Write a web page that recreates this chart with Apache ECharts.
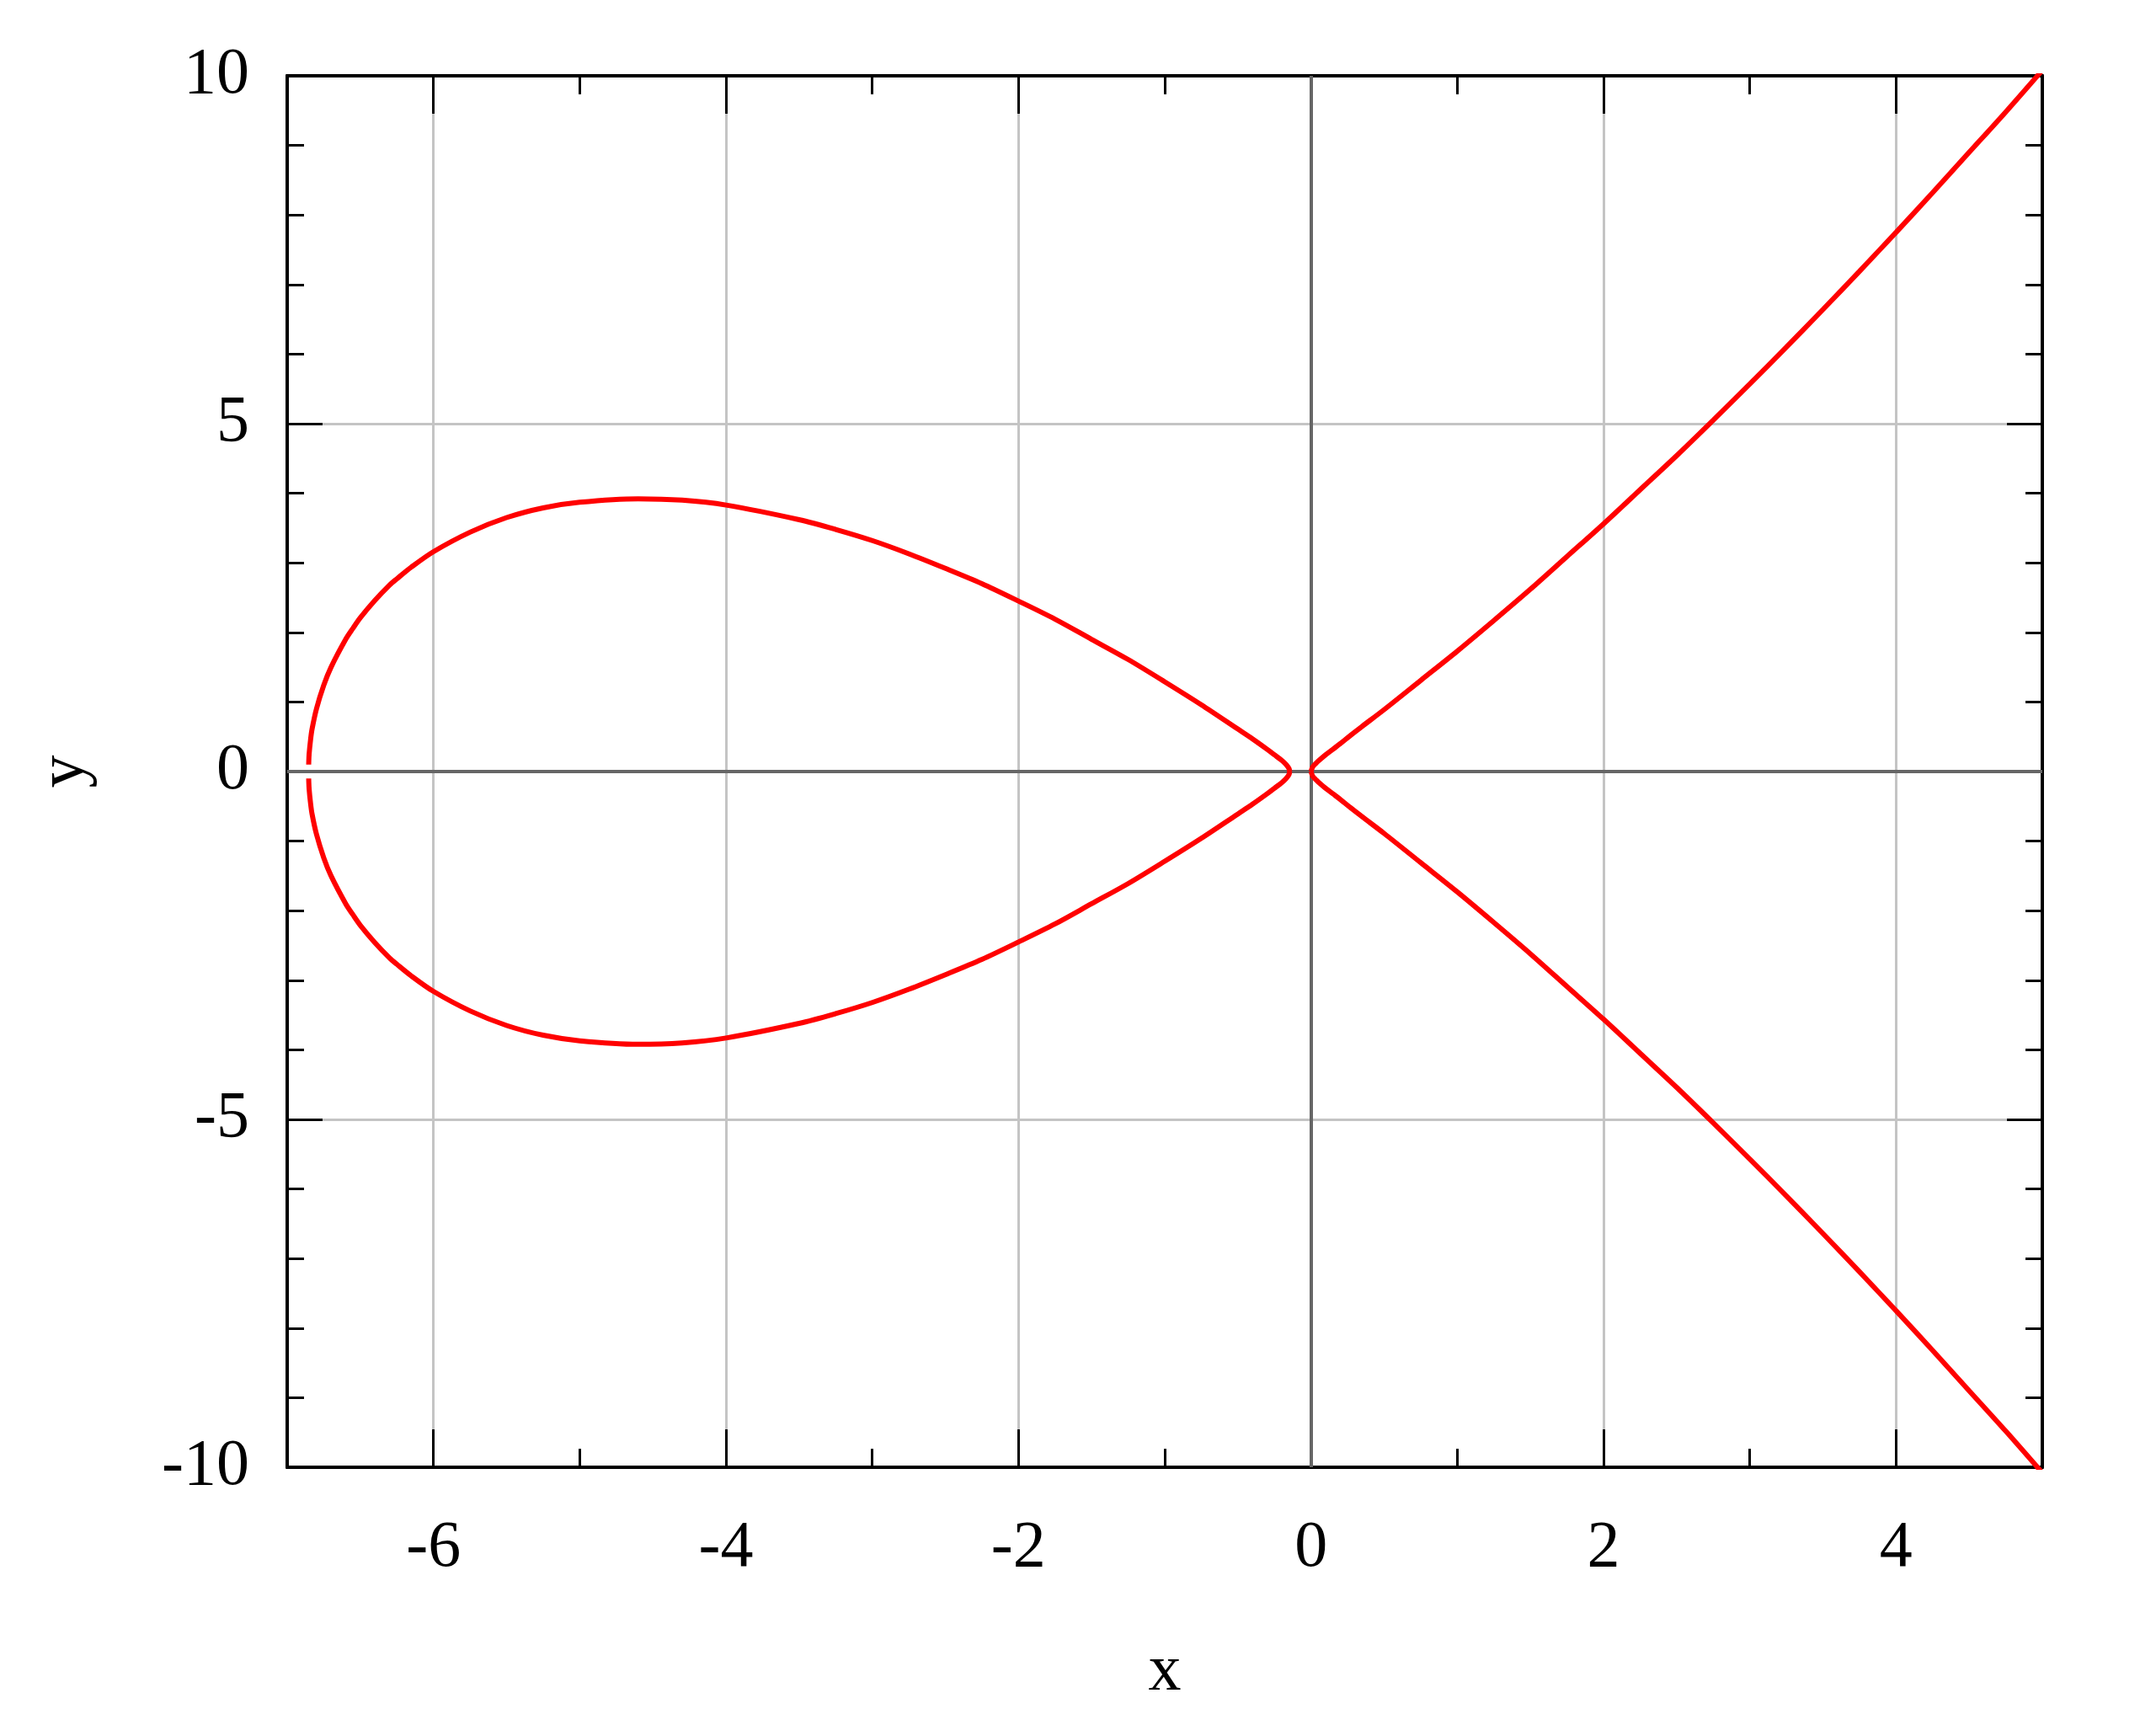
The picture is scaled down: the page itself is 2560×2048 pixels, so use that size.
<!DOCTYPE html>
<html>
<head>
<meta charset="utf-8">
<script src="https://cdn.jsdelivr.net/npm/echarts@6/dist/echarts.min.js"></script>
<style>
html,body{margin:0;padding:0;background:#fff;}
#chart{width:2560px;height:2048px;}
</style>
</head>
<body>
<div id="chart"></div>
<script>
// Loop (left oval)
const loopX = [-6.853, -6.85, -6.84, -6.83, -6.8, -6.75, -6.7, -6.6, -6.55, -6.5, -6.4, -6.3, -6.25, -6.15, -6, -5.75, -5.5, -5.25, -5, -4.6, -4.3, -4, -3.5, -3.25, -3, -2.75, -2.5, -2.25, -2, -1.75, -1.5, -1.25, -1, -0.75, -0.5, -0.4, -0.3, -0.25, -0.2, -0.17, -0.15, -0.146];
const loopUpperY = [0.10, 0.25, 0.46, 0.61, 0.90, 1.24, 1.50, 1.90, 2.06, 2.21, 2.46, 2.68, 2.77, 2.94, 3.16, 3.44, 3.65, 3.79, 3.87, 3.92, 3.90, 3.83, 3.62, 3.48, 3.32, 3.13, 2.92, 2.70, 2.45, 2.19, 1.90, 1.61, 1.29, 0.96, 0.61, 0.47, 0.32, 0.24, 0.16, 0.10, 0.04, 0];
const loopLowerY = [-0.10, -0.25, -0.46, -0.61, -0.90, -1.24, -1.50, -1.90, -2.06, -2.21, -2.46, -2.68, -2.77, -2.94, -3.16, -3.44, -3.65, -3.79, -3.87, -3.92, -3.90, -3.83, -3.62, -3.48, -3.32, -3.13, -2.92, -2.70, -2.45, -2.19, -1.90, -1.61, -1.29, -0.96, -0.61, -0.47, -0.32, -0.24, -0.16, -0.10, -0.04, 0];
// Right (open) branch
const branchX = [0, 0.01, 0.02, 0.03, 0.05, 0.1, 0.15, 0.2, 0.27, 0.35, 0.5, 0.75, 1, 1.25, 1.5, 1.75, 2, 2.25, 2.5, 2.75, 3, 3.25, 3.5, 3.75, 4, 4.25, 4.5, 4.75, 5];
const branchUpperY = [0, 0.06, 0.09, 0.11, 0.15, 0.24, 0.32, 0.40, 0.52, 0.65, 0.89, 1.31, 1.73, 2.17, 2.62, 3.09, 3.56, 4.05, 4.54, 5.05, 5.57, 6.10, 6.64, 7.19, 7.75, 8.32, 8.90, 9.48, 10.08];
const branchLowerY = [0, -0.06, -0.09, -0.11, -0.15, -0.24, -0.32, -0.40, -0.52, -0.65, -0.89, -1.31, -1.73, -2.17, -2.62, -3.09, -3.56, -4.05, -4.54, -5.05, -5.57, -6.10, -6.64, -7.19, -7.75, -8.32, -8.90, -9.48, -10.08];
// Axis ticks
const xMajorTicks = [-6, -4, -2, 0, 2, 4];
const yMajorTicks = [-10, -5, 0, 5, 10];
const xRange = [-7, 5];
const yRange = [-10, 10];

const pairs = (xs, ys) => xs.map((x, i) => [x, ys[i]]);
const FONT = 'Liberation Serif';
const labelStyle = {fontFamily: FONT, fontSize: 78, color: '#000'};

function xAx(pos, major, withLabels) {
  return {
    type: 'value', position: pos, min: xRange[0], max: xRange[1],
    interval: 1,
    axisLine: {show: true, onZero: false, lineStyle: {color: '#000', width: 4}},
    axisTick: major ? {show: true, inside: true, length: 45, customValues: xMajorTicks, lineStyle: {color: '#000', width: 3}}
                    : {show: true, inside: true, length: 22, lineStyle: {color: '#000', width: 3}},
    axisLabel: withLabels ? Object.assign({show: true, margin: 58, customValues: xMajorTicks}, labelStyle) : {show: false},
    splitLine: {show: false},
    name: withLabels ? 'x' : '',
    nameLocation: 'middle', nameGap: 205,
    nameTextStyle: labelStyle
  };
}
function yAx(pos, withLabels) {
  return {
    type: 'value', position: pos, min: yRange[0], max: yRange[1], interval: 5,
    axisLine: {show: true, onZero: false, lineStyle: {color: '#000', width: 4}},
    axisTick: {show: true, inside: true, length: 42, lineStyle: {color: '#000', width: 3}},
    minorTick: {show: true, splitNumber: 5, length: 20, lineStyle: {color: '#000', width: 3}},
    axisLabel: withLabels ? Object.assign({show: true, margin: 45}, labelStyle) : {show: false},
    splitLine: {show: false},
    name: withLabels ? 'y' : '',
    nameLocation: 'middle', nameGap: 224, nameRotate: 90,
    nameTextStyle: labelStyle
  };
}

const chart = echarts.init(document.getElementById('chart'), null, {renderer: 'canvas'});
const xBottomMajor = xAx('bottom', true, true);
const xTopMajor = xAx('top', true, false);
const xBottomMinor = xAx('bottom', false, false);
const xTopMinor = xAx('top', false, false);
const yLeft = yAx('left', true);
const yRight = yAx('right', false);
const xGridAxis = {type: 'value', position: 'bottom', min: xRange[0], max: xRange[1], interval: 1,
  axisLine: {show: false}, axisTick: {show: false, customValues: xMajorTicks}, axisLabel: {show: false},
  splitLine: {show: true, lineStyle: {color: '#c4c4c4', width: 3}}, z: 0};
const yGridAxis = {type: 'value', position: 'left', min: yRange[0], max: yRange[1], interval: 5,
  axisLine: {show: false}, axisTick: {show: false}, axisLabel: {show: false},
  splitLine: {show: true, lineStyle: {color: '#c4c4c4', width: 3}}, z: 0};

const curveStyle = {color: '#ff0000', width: 6};
const mkLine = (data) => ({
  type: 'line', xAxisIndex: 0, yAxisIndex: 0, data: data, showSymbol: false, symbol: 'none',
  smooth: 0.3, clip: true, lineStyle: curveStyle, itemStyle: {color: '#ff0000'}, z: 5, animation: false
});

chart.setOption({
  animation: false,
  backgroundColor: '#fff',
  grid: {left: 341, right: 135, top: 90, bottom: 306, containLabel: false},
  xAxis: [xBottomMajor, xTopMajor, xBottomMinor, xTopMinor, xGridAxis],
  yAxis: [yLeft, yRight, yGridAxis],
  series: [
    {
      type: 'line', xAxisIndex: 0, yAxisIndex: 0, data: [], z: 2, silent: true,
      markLine: {
        silent: true, symbol: 'none', animation: false,
        label: {show: false},
        lineStyle: {color: '#666666', width: 4, type: 'solid'},
        data: [{xAxis: 0}, {yAxis: 0}]
      }
    },
    mkLine(pairs(loopX, loopUpperY)),
    mkLine(pairs(loopX, loopLowerY)),
    mkLine(pairs(branchX, branchUpperY)),
    mkLine(pairs(branchX, branchLowerY))
  ]
});
</script>
</body>
</html>
